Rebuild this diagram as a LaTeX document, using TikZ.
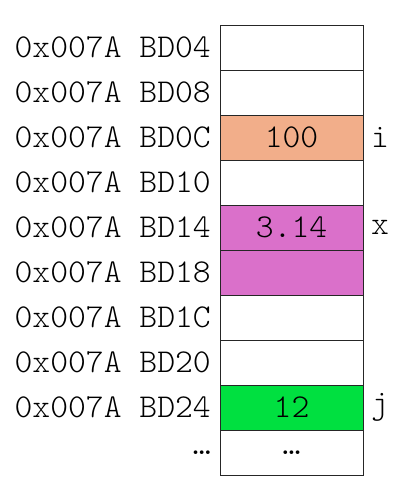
\documentclass[tikz,border=0pt]{standalone}
\usepackage{fontspec}
\setmonofont{Latin Modern Mono Light}[FakeStretch=1.02]
\begin{document}
\begin{tikzpicture}[x=1pt,y=-1pt,
  cell/.style={draw=black!85,line width=1pt,minimum width=143pt,minimum height=45pt,inner sep=0pt,outer sep=0pt,font=\ttfamily\fontsize{33.3}{35}\selectfont},
  addr/.style={anchor=east,inner sep=0pt,font=\ttfamily\fontsize{33.3}{35}\selectfont},
  var/.style={anchor=west,inner sep=0pt,font=\ttfamily\fontsize{33.3}{35}\selectfont}]
\useasboundingbox (0,0) rectangle (415,493);
\definecolor{cOrange}{HTML}{F2AE8A}
\definecolor{cOrchid}{HTML}{DA70CA}
\definecolor{cGreen}{HTML}{00E040}
\node[cell] (c0) at (291.5,47.5) {};
\node[cell] (c1) at (291.5,92.5) {};
\node[cell,fill=cOrange] (c2) at (291.5,137.5) {100};
\node[cell] (c3) at (291.5,182.5) {};
\node[cell,fill=cOrchid] (c4) at (291.5,227.5) {3.14};
\node[cell,fill=cOrchid] (c5) at (291.5,272.5) {};
\node[cell] (c6) at (291.5,317.5) {};
\node[cell] (c7) at (291.5,362.5) {};
\node[cell,fill=cGreen] (c8) at (291.5,407.5) {12};
\node[cell] (c9) at (291.5,452.5) {…};
\node[addr] (a0) at (211,47.5) {0x007A BD04};
\node[addr] (a1) at (211,92.5) {0x007A BD08};
\node[addr] (a2) at (211,137.5) {0x007A BD0C};
\node[addr] (a3) at (211,182.5) {0x007A BD10};
\node[addr] (a4) at (211,227.5) {0x007A BD14};
\node[addr] (a5) at (211,272.5) {0x007A BD18};
\node[addr] (a6) at (211,317.5) {0x007A BD1C};
\node[addr] (a7) at (211,362.5) {0x007A BD20};
\node[addr] (a8) at (211,407.5) {0x007A BD24};
\node[addr] (a9) at (211,452.5) {…};
\node[var] (vi) at (371,137.5) {i};
\node[var] (vx) at (371,227.5) {x};
\node[var] (vj) at (371,407.5) {j};
\end{tikzpicture}
\end{document}
